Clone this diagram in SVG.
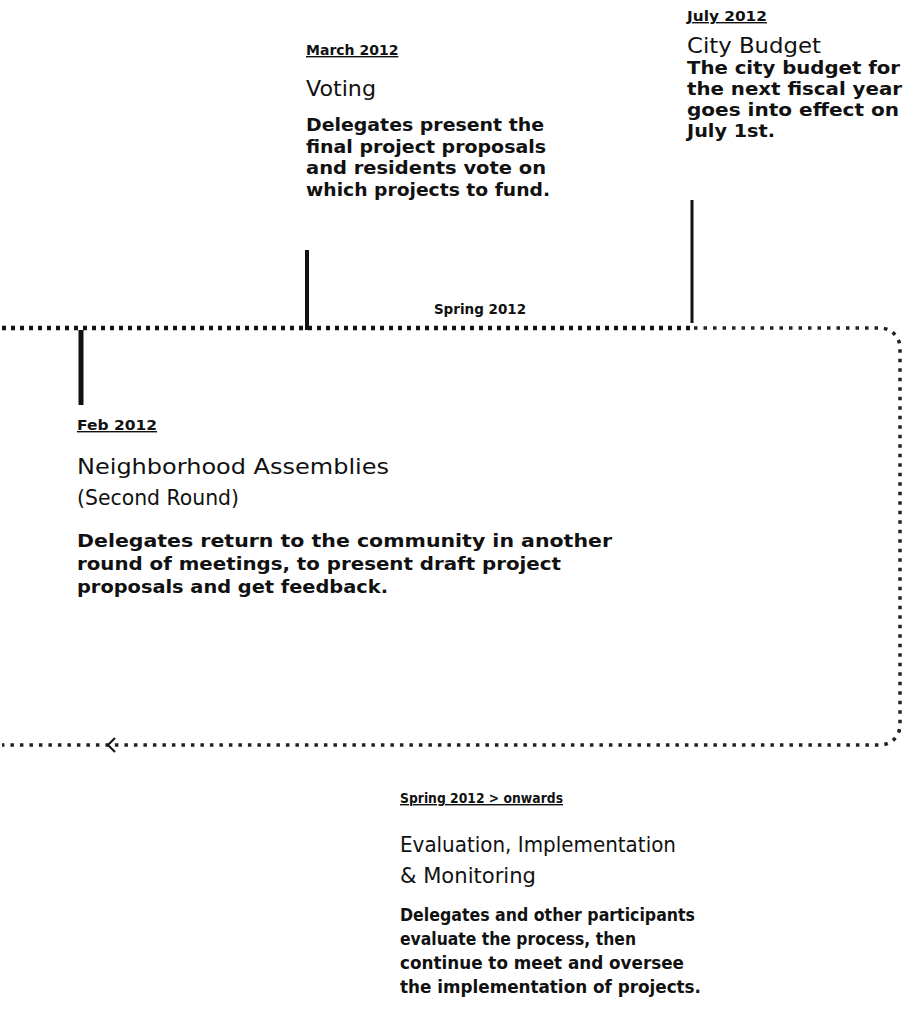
<svg xmlns="http://www.w3.org/2000/svg" width="905" height="1029" viewBox="0 0 905 1029">
<style>
text{font-family:"DejaVu Sans","Liberation Sans",sans-serif;fill:#111}
.date{font-size:14px;font-weight:bold;text-decoration:underline}
.title{font-size:22px}
.body{font-size:17.5px;font-weight:bold}
.season{font-size:13.5px;font-weight:bold}
.heavy{fill:none;stroke:#111;stroke-width:4.5;stroke-dasharray:4 5}
.light{fill:none;stroke:#222;stroke-width:3.5;stroke-dasharray:3.5 6}
.tick{stroke:#111;fill:none}
</style>
<rect width="905" height="1029" fill="#fff"/>
<g id="connectors">
<path class="heavy" d="M2 328 H690"/>
<path class="light" d="M694 328 H880 A20 20 0 0 1 900 348 V725 A20 20 0 0 1 880 745 H2"/>
<path class="tick" stroke-width="3" d="M692 200 V323"/>
<path class="tick" stroke-width="4" d="M307 250 V330"/>
<path class="tick" stroke-width="5" d="M81 330 V405"/>
<path class="tick" stroke-width="2" d="M115 738 L108 745 L115 752"/>
</g>
<g id="season-spring">
<text class="season" x="480" y="314" text-anchor="middle">Spring 2012</text>
</g>
<g id="node-july">
<text class="date" x="687" y="21" textLength="80" lengthAdjust="spacingAndGlyphs">July 2012</text>
<text class="title" x="687" y="53" textLength="134" lengthAdjust="spacingAndGlyphs">City Budget</text>
<text class="body" x="687" y="74" textLength="213" lengthAdjust="spacingAndGlyphs">The city budget for</text>
<text class="body" x="687" y="95" textLength="215" lengthAdjust="spacingAndGlyphs">the next fiscal year</text>
<text class="body" x="687" y="116" textLength="212" lengthAdjust="spacingAndGlyphs">goes into effect on</text>
<text class="body" x="687" y="137" textLength="88" lengthAdjust="spacingAndGlyphs">July 1st.</text>
</g>
<g id="node-march">
<text class="date" x="306" y="55">March 2012</text>
<text class="title" x="306" y="96" textLength="70" lengthAdjust="spacingAndGlyphs">Voting</text>
<text class="body" x="306" y="131" textLength="238" lengthAdjust="spacingAndGlyphs">Delegates present the</text>
<text class="body" x="306" y="153" textLength="240" lengthAdjust="spacingAndGlyphs">final project proposals</text>
<text class="body" x="306" y="174" textLength="240" lengthAdjust="spacingAndGlyphs">and residents vote on</text>
<text class="body" x="306" y="196" textLength="244" lengthAdjust="spacingAndGlyphs">which projects to fund.</text>
</g>
<g id="node-feb">
<text class="date" x="77" y="430" textLength="80" lengthAdjust="spacingAndGlyphs">Feb 2012</text>
<text class="title" x="77" y="474" textLength="312" lengthAdjust="spacingAndGlyphs">Neighborhood Assemblies</text>
<text class="title" x="77" y="505" textLength="162" lengthAdjust="spacingAndGlyphs">(Second Round)</text>
<text class="body" x="77" y="547" textLength="535" lengthAdjust="spacingAndGlyphs">Delegates return to the community in another</text>
<text class="body" x="77" y="570" textLength="484" lengthAdjust="spacingAndGlyphs">round of meetings, to present draft project</text>
<text class="body" x="77" y="593" textLength="311" lengthAdjust="spacingAndGlyphs">proposals and get feedback.</text>
</g>
<g id="node-evaluation">
<text class="date" x="400" y="803" textLength="163" lengthAdjust="spacingAndGlyphs">Spring 2012 &gt; onwards</text>
<text class="title" x="400" y="852" textLength="276" lengthAdjust="spacingAndGlyphs">Evaluation, Implementation</text>
<text class="title" x="400" y="883" textLength="136" lengthAdjust="spacingAndGlyphs">&amp; Monitoring</text>
<text class="body" x="400" y="921" textLength="295" lengthAdjust="spacingAndGlyphs">Delegates and other participants</text>
<text class="body" x="400" y="945" textLength="236" lengthAdjust="spacingAndGlyphs">evaluate the process, then</text>
<text class="body" x="400" y="969" textLength="284" lengthAdjust="spacingAndGlyphs">continue to meet and oversee</text>
<text class="body" x="400" y="993" textLength="301" lengthAdjust="spacingAndGlyphs">the implementation of projects.</text>
</g>
</svg>
